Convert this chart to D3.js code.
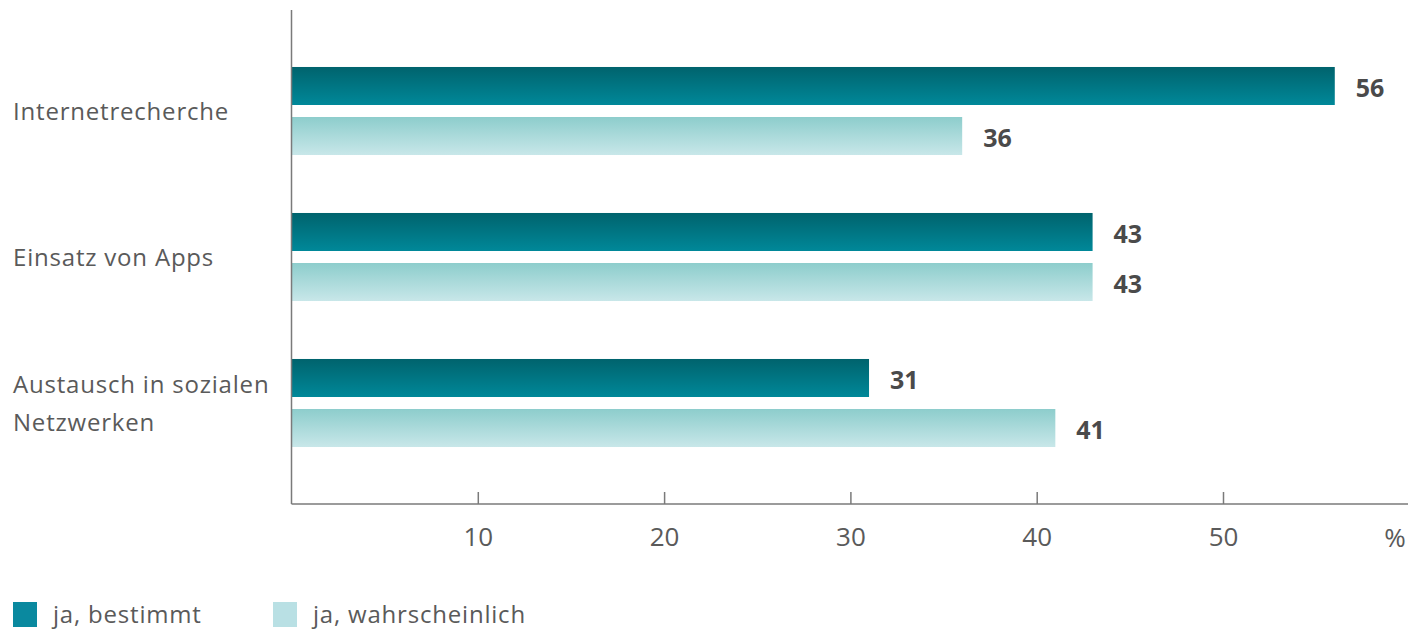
<!DOCTYPE html>
<html><head><meta charset="utf-8">
<script src="https://cdn.jsdelivr.net/npm/d3@7"></script>
<style>body{margin:0;background:#fff}svg{display:block}text{font-family:"Open Sans","Noto Sans",sans-serif}</style>
</head><body><svg id="c" width="1410" height="631"></svg>
<script>
const categories = ["Internetrecherche", "Einsatz von Apps", "Austausch in sozialen Netzwerken"];
const categoryLines = [["Internetrecherche"], ["Einsatz von Apps"], ["Austausch in sozialen", "Netzwerken"]];
const seriesNames = ["ja, bestimmt", "ja, wahrscheinlich"];
const bestimmt = [56, 43, 31];
const wahrscheinlich = [36, 43, 41];
const tickValues = [10, 20, 30, 40, 50];

const svg = d3.select("#c");
const defs = svg.append("defs");
const g1 = defs.append("linearGradient").attr("id","gDark").attr("x1",0).attr("y1",0).attr("x2",0).attr("y2",1);
g1.append("stop").attr("offset","0%").attr("stop-color","#00636d");
g1.append("stop").attr("offset","100%").attr("stop-color","#008899");
const g2 = defs.append("linearGradient").attr("id","gLight").attr("x1",0).attr("y1",0).attr("x2",0).attr("y2",1);
g2.append("stop").attr("offset","0%").attr("stop-color","#8dcdcc");
g2.append("stop").attr("offset","100%").attr("stop-color","#c8e7e9");
const fills = ["url(#gDark)", "url(#gLight)"];
const legendFills = ["#0a899f", "#b9e0e4"];
const labelColor = "#5a5a5a";

const x = d3.scaleLinear().domain([0, 60]).range([291.5, 291.5 + 60 * 18.63]);
const y = d3.scaleBand().domain(categories).range([38, 476]).paddingInner(0.397).paddingOuter(0.1985);
const ySub = d3.scaleBand().domain(seriesNames).range([0, y.bandwidth()]).paddingInner(0.24);

const data = categories.map((c, i) => ({cat: c, vals: [bestimmt[i], wahrscheinlich[i]]}));

const groups = svg.append("g").selectAll("g").data(data).join("g")
  .attr("transform", d => `translate(0,${y(d.cat)})`);
groups.selectAll("rect").data(d => d.vals.map((v, j) => ({v, s: seriesNames[j], j}))).join("rect")
  .attr("x", x(0)).attr("y", d => ySub(d.s)).attr("height", ySub.bandwidth())
  .attr("width", d => x(d.v) - x(0)).attr("fill", d => fills[d.j]);
groups.selectAll("text.val").data(d => d.vals.map((v, j) => ({v, s: seriesNames[j]}))).join("text")
  .attr("class","val").attr("x", d => x(d.v) + 21).attr("y", d => ySub(d.s) + ySub.bandwidth()/2 + 11)
  .attr("font-size", 25).attr("font-weight", "bold").attr("fill", "#4a4a4a")
  .text(d => d.v);

// category labels
svg.append("g").selectAll("text").data(categories).join("text")
  .attr("x", 13).attr("y", (d, i) => y(d) + y.bandwidth()/2 + 8.5 - (categoryLines[i].length - 1) * 19)
  .attr("font-size", 24).attr("letter-spacing", 0.8).attr("fill", labelColor)
  .each(function(d, i) {
    const t = d3.select(this);
    categoryLines[i].forEach((ln, k) => t.append("tspan").attr("x", 13).attr("dy", k === 0 ? 0 : 38).text(ln));
  });

// axes
const axisY = 504;
const ax = svg.append("g").attr("transform", `translate(0,${axisY})`)
  .call(d3.axisBottom(x).tickValues(tickValues).tickSize(-12).tickPadding(24).tickFormat(d3.format("d")));
ax.select(".domain").remove();
ax.selectAll(".tick line").attr("stroke", "#7a7a7a").attr("stroke-width", 1.5);
ax.selectAll(".tick text").attr("font-size", 26).attr("fill", labelColor).attr("font-family", "'Open Sans','Noto Sans',sans-serif");
svg.append("line").attr("x1", x(0)).attr("x2", 1408).attr("y1", axisY).attr("y2", axisY).attr("stroke", "#7a7a7a").attr("stroke-width", 1.5);
svg.append("line").attr("x1", x(0)).attr("x2", x(0)).attr("y1", 10).attr("y2", axisY).attr("stroke", "#7a7a7a").attr("stroke-width", 1.5);
svg.append("text").attr("x", 1395).attr("y", 547).attr("text-anchor","middle")
  .attr("font-size", 26).attr("fill", labelColor).text("%");

// legend
const legX = [13, 273];
const lg = svg.append("g").selectAll("g").data(seriesNames).join("g")
  .attr("transform", (d, i) => `translate(${legX[i]},602)`);
lg.append("rect").attr("width", 24).attr("height", 25).attr("fill", (d, i) => legendFills[i]);
lg.append("text").attr("x", 40).attr("y", 21).attr("font-size", 24).attr("letter-spacing", 0.8).attr("fill", labelColor).text(d => d);
</script></body></html>
